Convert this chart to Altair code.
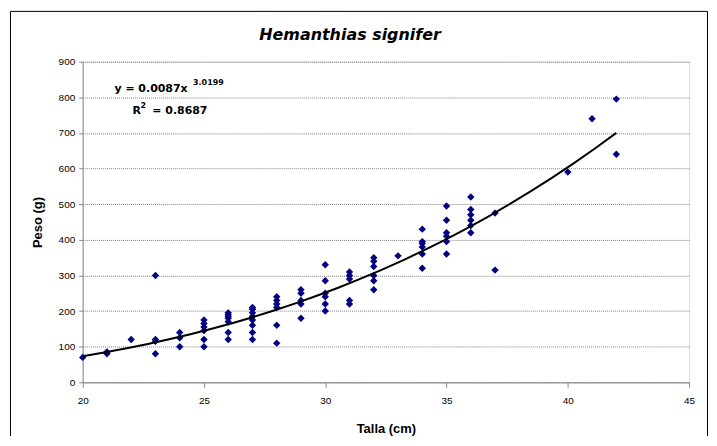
import altair as alt
import pandas as pd

# ---- data ----
talla = [20,
         21, 21,
         22,
         23, 23, 23, 23,
         24, 24, 24,
         25, 25, 25, 25, 25, 25,
         26, 26, 26, 26, 26, 26, 26,
         27, 27, 27, 27, 27, 27, 27, 27,
         28, 28, 28, 28, 28, 28,
         29, 29, 29, 29, 29,
         30, 30, 30, 30, 30, 30,
         31, 31, 31, 31, 31,
         32, 32, 32, 32, 32, 32,
         33,
         34, 34, 34, 34, 34, 34,
         35, 35, 35, 35, 35, 35,
         36, 36, 36, 36, 36, 36,
         37, 37,
         40, 41, 42, 42]
peso = [70,
        85, 80,
        120,
        300, 120, 115, 80,
        140, 125, 100,
        175, 165, 155, 145, 120, 100,
        195, 190, 185, 180, 170, 140, 120,
        210, 205, 195, 185, 175, 160, 140, 120,
        240, 230, 220, 210, 160, 110,
        260, 250, 230, 220, 180,
        330, 285, 250, 240, 220, 200,
        310, 300, 290, 230, 220,
        350, 340, 325, 300, 285, 260,
        355,
        430, 395, 390, 380, 360, 320,
        495, 455, 420, 410, 395, 360,
        520, 485, 470, 455, 440, 420,
        475, 315,
        590, 740, 795, 640]

x_ticks = [20, 25, 30, 35, 40, 45]
y_ticks = [0, 100, 200, 300, 400, 500, 600, 700, 800, 900]

eq_main_text = ["y = 0.0087x", "R", "= 0.8687"]
eq_sup_text = ["3.0199", "2"]

# annotation anchor positions (data units)
eq_main_x = [21.31, 22.05, 22.87]
eq_main_y = [816, 753, 753]
eq_sup_x = [24.55, 22.38]
eq_sup_y = [835, 770]

FONT = "DejaVu Sans"

df = pd.DataFrame({"Talla": talla, "Peso": peso})
ann_main = pd.DataFrame({"Talla": eq_main_x, "Peso": eq_main_y, "t": eq_main_text})
ann_sup = pd.DataFrame({"Talla": eq_sup_x, "Peso": eq_sup_y, "t": eq_sup_text})

xscale = alt.Scale(domain=[20, 45], nice=False, zero=False)
yscale = alt.Scale(domain=[0, 900], nice=False)

x_axis = alt.Axis(values=x_ticks, grid=False, tickSize=5, labelFontSize=10,
                  labelPadding=8, labelFlush=False, labelOverlap=False,
                  titleFontSize=13, titleFontWeight="bold", titlePadding=17)
y_axis = alt.Axis(values=y_ticks, grid=True, gridColor="#808080", gridDash=[1, 1],
                  tickSize=4, labelFontSize=10, labelPadding=4, labelOverlap=False,
                  titleFontSize=13, titleFontWeight="bold", titlePadding=14)

x_enc = alt.X("Talla:Q", scale=xscale, axis=x_axis, title="Talla (cm)")
y_enc = alt.Y("Peso:Q", scale=yscale, axis=y_axis, title="Peso (g)")

points = alt.Chart(df).mark_point(shape="diamond", filled=True, size=55,
                                  color="#000080", opacity=1).encode(x=x_enc, y=y_enc)

trend = alt.Chart(df).transform_regression(
    "Talla", "Peso", method="pow", extent=[20, 42]
).mark_line(color="black", strokeWidth=2).encode(x=x_enc, y=y_enc)

eq_main = alt.Chart(ann_main).mark_text(
    font=FONT, fontSize=11, fontWeight="bold", align="left",
    baseline="alphabetic", color="black"
).encode(x=x_enc, y=y_enc, text="t:N")

eq_sup = alt.Chart(ann_sup).mark_text(
    font=FONT, fontSize=8, fontWeight="bold", align="left",
    baseline="alphabetic", color="black"
).encode(x=x_enc, y=y_enc, text="t:N")

frame = alt.Chart(alt.Data(values=[{}])).mark_rect(
    fillOpacity=0, stroke="black", strokeWidth=1
).encode(x=alt.value(-72.5), x2=alt.value(627.5), y=alt.value(-50.5), y2=alt.value(420))

chart = alt.layer(points, trend, eq_main, eq_sup, frame).properties(
    width=609, height=322,
    title=alt.TitleParams("Hemanthias signifer", dx=-36, offset=-32,
                          anchor="middle", frame="group",
                          font=FONT, fontSize=16, fontStyle="italic",
                          fontWeight="bold", color="black"),
    autosize=alt.AutoSizeParams(type="none"),
    padding={"left": 75, "top": 53, "right": 20, "bottom": 53},
).configure_view(stroke=None).configure_axis(
    labelFont=FONT, titleFont=FONT, labelColor="black", titleColor="black",
    domainColor="black", tickColor="black", domainWidth=1, tickWidth=1
).configure(background="white")

chart.save("out.html", embed_options={"renderer": "svg", "actions": False})
